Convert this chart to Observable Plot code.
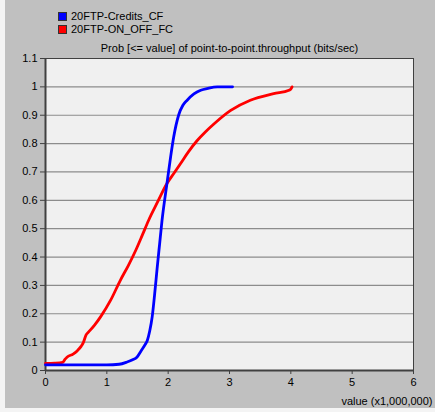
<!DOCTYPE html>
<html><head><meta charset="utf-8">
<script src="https://cdn.jsdelivr.net/npm/d3@7"></script>
<script src="https://cdn.jsdelivr.net/npm/@observablehq/plot@0.6"></script>
<style>
body{margin:0;background:#f4f4f4;font-family:"Liberation Sans",Arial,sans-serif;}
#wrap{position:absolute;left:5px;top:0;width:430px;height:408px;background:#c0c0c0;}
#legend{height:38px;box-sizing:border-box;padding:10px 0 0 53px;font-size:11px;color:#000;line-height:13px;}
.item{display:flex;align-items:center;height:13px;}
.sw{width:7px;height:7px;border:1px solid #333;margin-right:4px;}
#chart svg{display:block;background:transparent;}
</style></head><body><div id="wrap"><div id="legend"></div><div id="chart"></div></div>
<script>
const seriesNames = ["20FTP-Credits_CF", "20FTP-ON_OFF_FC"];
const seriesColors = ["#0000ff", "#ff0000"];
const chartTitle = "Prob [<= value] of point-to-point.throughput (bits/sec)";
const xLabel = "value (x1,000,000)";
const xTicks = [0, 1, 2, 3, 4, 5, 6];
const yTicks = [0, 0.1, 0.2, 0.3, 0.4, 0.5, 0.6, 0.7, 0.8, 0.9, 1, 1.1];

const creditsX = [0, 0.5, 1.0, 1.2, 1.33, 1.42, 1.49, 1.56, 1.62, 1.66, 1.70, 1.74, 1.78, 1.82, 1.86, 1.90, 1.98, 2.04, 2.09, 2.17, 2.24, 2.31, 2.42, 2.53, 2.65, 2.80, 3.05];
const creditsY = [0.02, 0.02, 0.02, 0.022, 0.03, 0.038, 0.047, 0.07, 0.09, 0.106, 0.14, 0.19, 0.27, 0.36, 0.445, 0.529, 0.659, 0.753, 0.823, 0.90, 0.935, 0.953, 0.975, 0.988, 0.995, 1.0, 1.0];

const onoffX = [0, 0.15, 0.28, 0.32, 0.35, 0.45, 0.52, 0.58, 0.62, 0.66, 0.70, 0.80, 0.90, 1.06, 1.22, 1.35, 1.47, 1.58, 1.68, 1.83, 1.98, 2.10, 2.20, 2.33, 2.47, 2.61, 2.75, 3.02, 3.34, 3.72, 3.97, 4.00, 4.02];
const onoffY = [0.025, 0.026, 0.029, 0.04, 0.047, 0.058, 0.07, 0.085, 0.10, 0.125, 0.135, 0.16, 0.19, 0.247, 0.318, 0.37, 0.423, 0.478, 0.529, 0.595, 0.659, 0.697, 0.729, 0.771, 0.81, 0.842, 0.87, 0.917, 0.953, 0.976, 0.988, 0.992, 1.0];

const credits = creditsX.map((x, i) => ({x, y: creditsY[i]}));
const onoff = onoffX.map((x, i) => ({x, y: onoffY[i]}));

const legend = document.getElementById("legend");
seriesNames.forEach((n, i) => {
  const d = document.createElement("div");
  d.className = "item";
  d.innerHTML = `<span class="sw" style="background:${seriesColors[i]}"></span><span>${n}</span>`;
  legend.appendChild(d);
});

const fmt = d => String(+d.toFixed(1));

const chart = Plot.plot({
  width: 430,
  height: 370,
  marginLeft: 40,
  marginRight: 22,
  marginTop: 20,
  marginBottom: 38,
  style: {fontFamily: "'Liberation Sans', Arial, sans-serif", fontSize: "11px", color: "#000", background: "transparent"},
  x: {domain: [0, 6], axis: null},
  y: {domain: [0, 1.1], axis: null},
  marks: [
    Plot.frame({fill: "#f0f0f0", stroke: null}),
    Plot.gridY(yTicks.slice(1, -1), {stroke: "#8c8c8c", strokeOpacity: 1, strokeWidth: 1.2}),
    Plot.frame({stroke: "#404040", strokeWidth: 1}),
    Plot.ruleX([0], {stroke: "#404040", strokeWidth: 2}),
    Plot.ruleY([0], {stroke: "#404040", strokeWidth: 2}),
    Plot.axisX({anchor: "bottom", ticks: xTicks, tickFormat: fmt, tickSize: 4, tickPadding: 4, stroke: "#404040", label: xLabel, labelAnchor: "right", labelArrow: "none", labelOffset: 34, fill: "#000"}),
    Plot.axisY({anchor: "left", ticks: yTicks, tickFormat: fmt, tickSize: 5, tickPadding: 3, stroke: "#404040", label: null, fill: "#000"}),
    Plot.axisX({anchor: "top", ticks: [], label: chartTitle, labelAnchor: "center", labelArrow: "none", labelOffset: 14, fill: "#000"}),
    Plot.line(onoff, {x: "x", y: "y", stroke: seriesColors[1], strokeWidth: 2.8, curve: "monotone-x"}),
    Plot.line(credits, {x: "x", y: "y", stroke: seriesColors[0], strokeWidth: 2.8, curve: "monotone-x"})
  ]
});
document.getElementById("chart").appendChild(chart);
</script>
</body></html>
